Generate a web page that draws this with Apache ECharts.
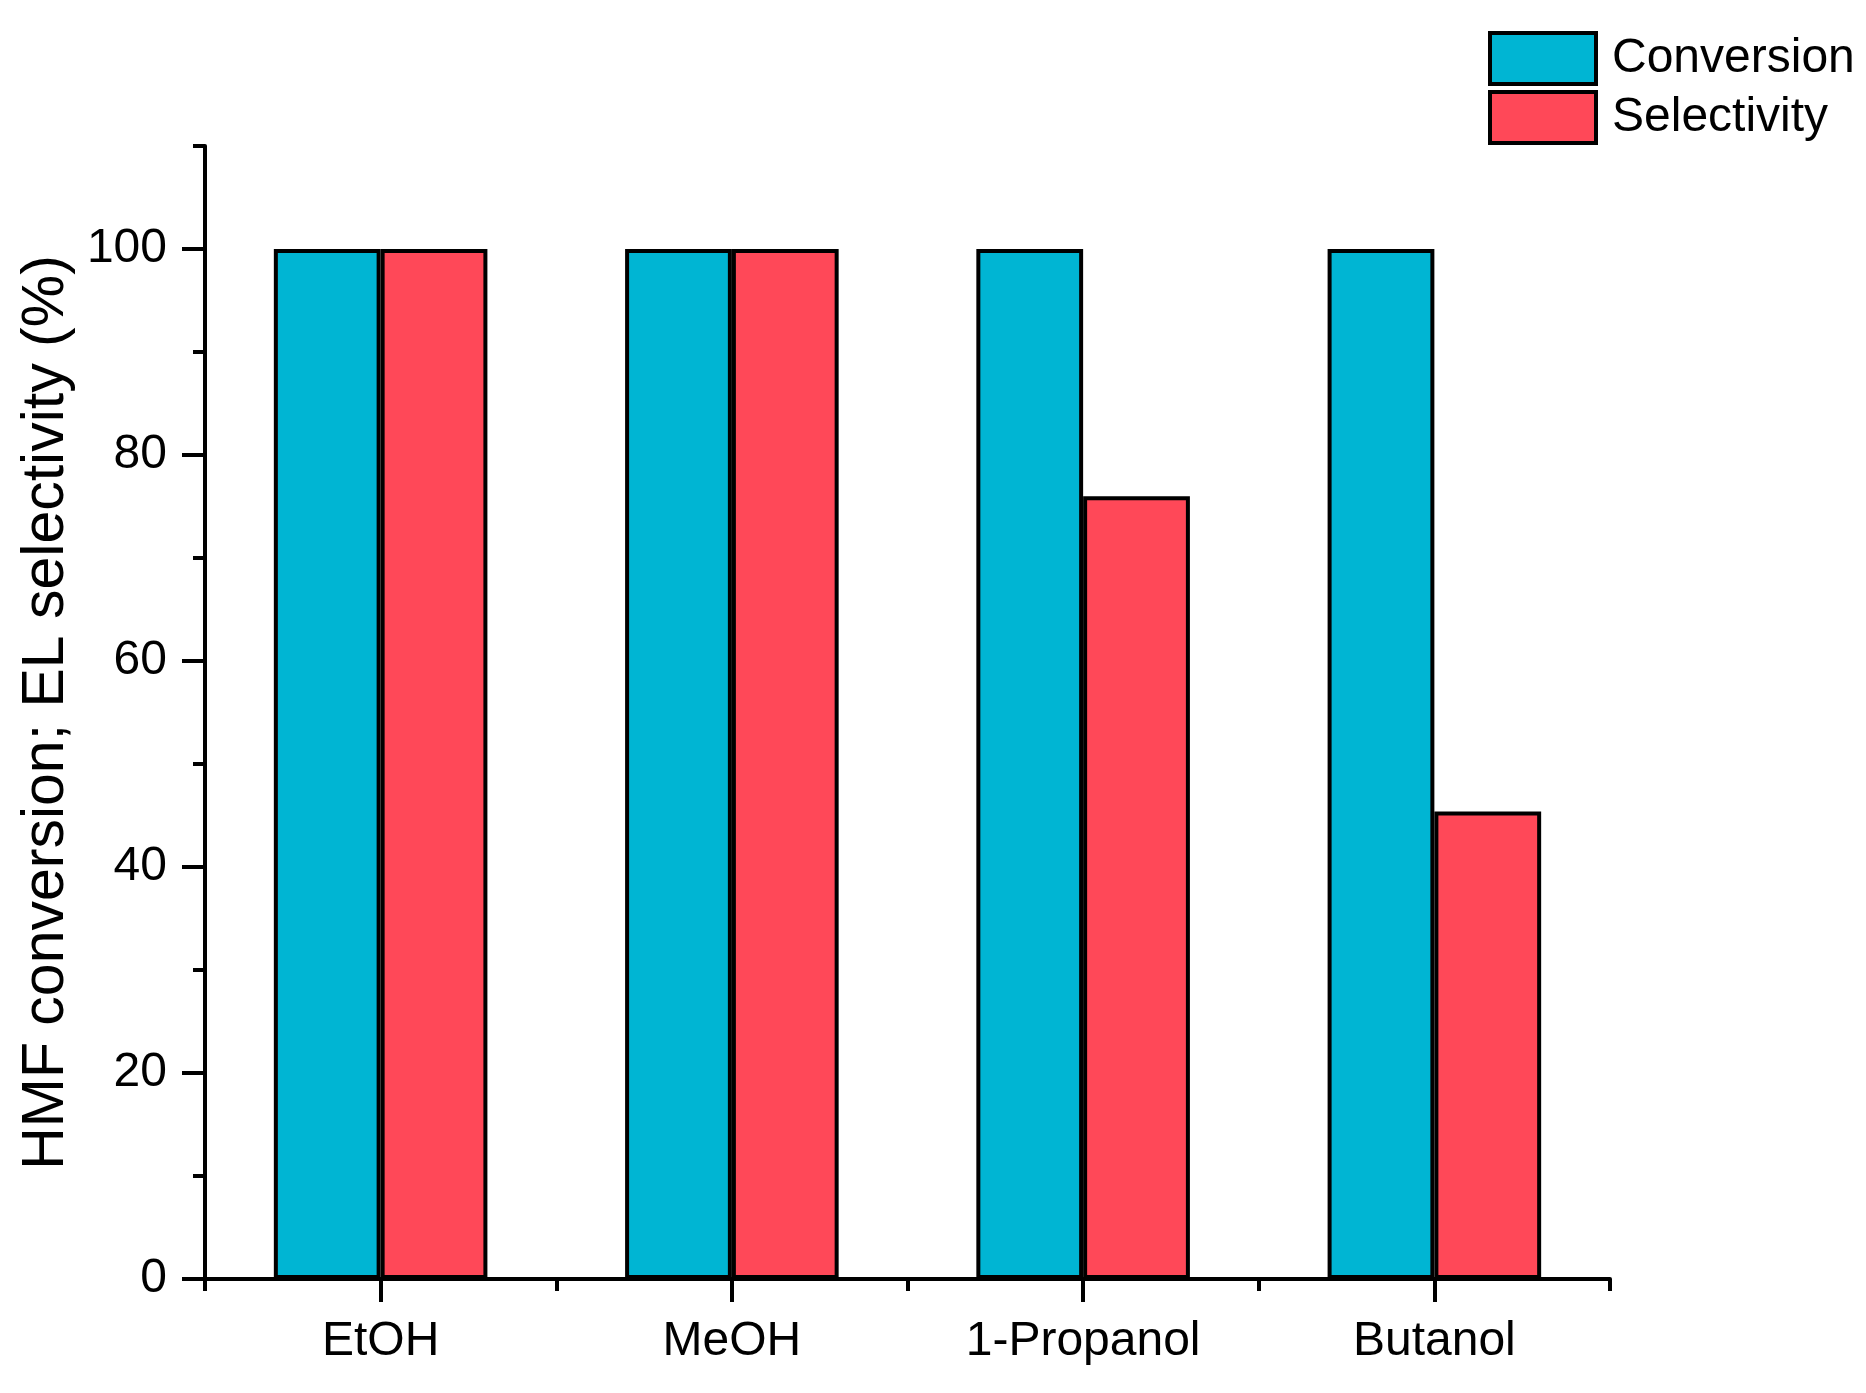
<!DOCTYPE html>
<html>
<head>
<meta charset="utf-8">
<script src="https://cdn.jsdelivr.net/npm/echarts@6/dist/echarts.min.js"></script>
<style>
html,body{margin:0;padding:0;background:#fff;}
#chart{width:1866px;height:1393px;}
</style>
</head>
<body>
<div id="chart"></div>
<script>
const categories = ['EtOH', 'MeOH', '1-Propanol', 'Butanol'];
const conversion = [100, 100, 100, 100];
const selectivity = [100, 100, 76, 45.4];
const majorTicks = [0, 20, 40, 60, 80, 100];
const yName = 'HMF conversion; EL selectivity (%)';

const FONT = '"Liberation Sans", Arial, sans-serif';
const chart = echarts.init(document.getElementById('chart'), null, {renderer: 'canvas'});
const axisLine = {show: true, lineStyle: {color: '#000', width: 4}};

chart.setOption({
  animation: false,
  backgroundColor: '#fff',
  textStyle: {fontFamily: FONT},
  grid: {left: 205, right: 256, top: 146, bottom: 114, containLabel: false},
  legend: {
    orient: 'vertical',
    left: 1483,
    top: 26,
    itemWidth: 106,
    itemHeight: 51,
    itemGap: 4,
    icon: 'rect',
    itemStyle: {borderColor: '#000', borderWidth: 4},
    textStyle: {fontSize: 48, color: '#000', fontFamily: FONT, padding: [0, 0, 0, 11]},
    data: ['Conversion', 'Selectivity']
  },
  xAxis: [
    {
      type: 'category',
      data: categories,
      position: 'bottom',
      axisLine: axisLine,
      axisTick: {show: true, alignWithLabel: true, length: 23, lineStyle: {color: '#000', width: 4}},
      axisLabel: {fontSize: 48, color: '#000', fontFamily: FONT, margin: 39},
      splitLine: {show: false}
    },
    {
      type: 'category',
      data: categories,
      position: 'bottom',
      axisLine: {show: false},
      axisTick: {show: true, alignWithLabel: false, length: 12, lineStyle: {color: '#000', width: 4}},
      axisLabel: {show: false},
      splitLine: {show: false}
    }
  ],
  yAxis: [
    {
      type: 'value',
      position: 'left',
      min: 0,
      max: 110,
      interval: 20,
      name: yName,
      nameLocation: 'middle',
      nameGap: 128,
      nameTextStyle: {fontSize: 59, color: '#000', fontFamily: FONT},
      axisLine: axisLine,
      axisTick: {show: true, length: 23, lineStyle: {color: '#000', width: 4}, customValues: majorTicks},
      axisLabel: {fontSize: 48, color: '#000', fontFamily: FONT, margin: 38, customValues: majorTicks},
      splitLine: {show: false}
    },
    {
      type: 'value',
      position: 'left',
      min: 0,
      max: 110,
      interval: 10,
      axisLine: {show: false},
      axisTick: {show: true, length: 12, lineStyle: {color: '#000', width: 4}},
      axisLabel: {show: false},
      splitLine: {show: false}
    }
  ],
  series: [
    {
      name: 'Conversion',
      type: 'bar',
      data: conversion,
      xAxisIndex: 0,
      yAxisIndex: 0,
      barGap: '0%',
      barCategoryGap: '39.2%',
      itemStyle: {color: '#00B5D3', borderColor: '#000', borderWidth: 4}
    },
    {
      name: 'Selectivity',
      type: 'bar',
      data: selectivity,
      xAxisIndex: 0,
      yAxisIndex: 0,
      barGap: '0%',
      barCategoryGap: '39.2%',
      itemStyle: {color: '#FF4858', borderColor: '#000', borderWidth: 4}
    }
  ]
});
</script>
</body>
</html>
